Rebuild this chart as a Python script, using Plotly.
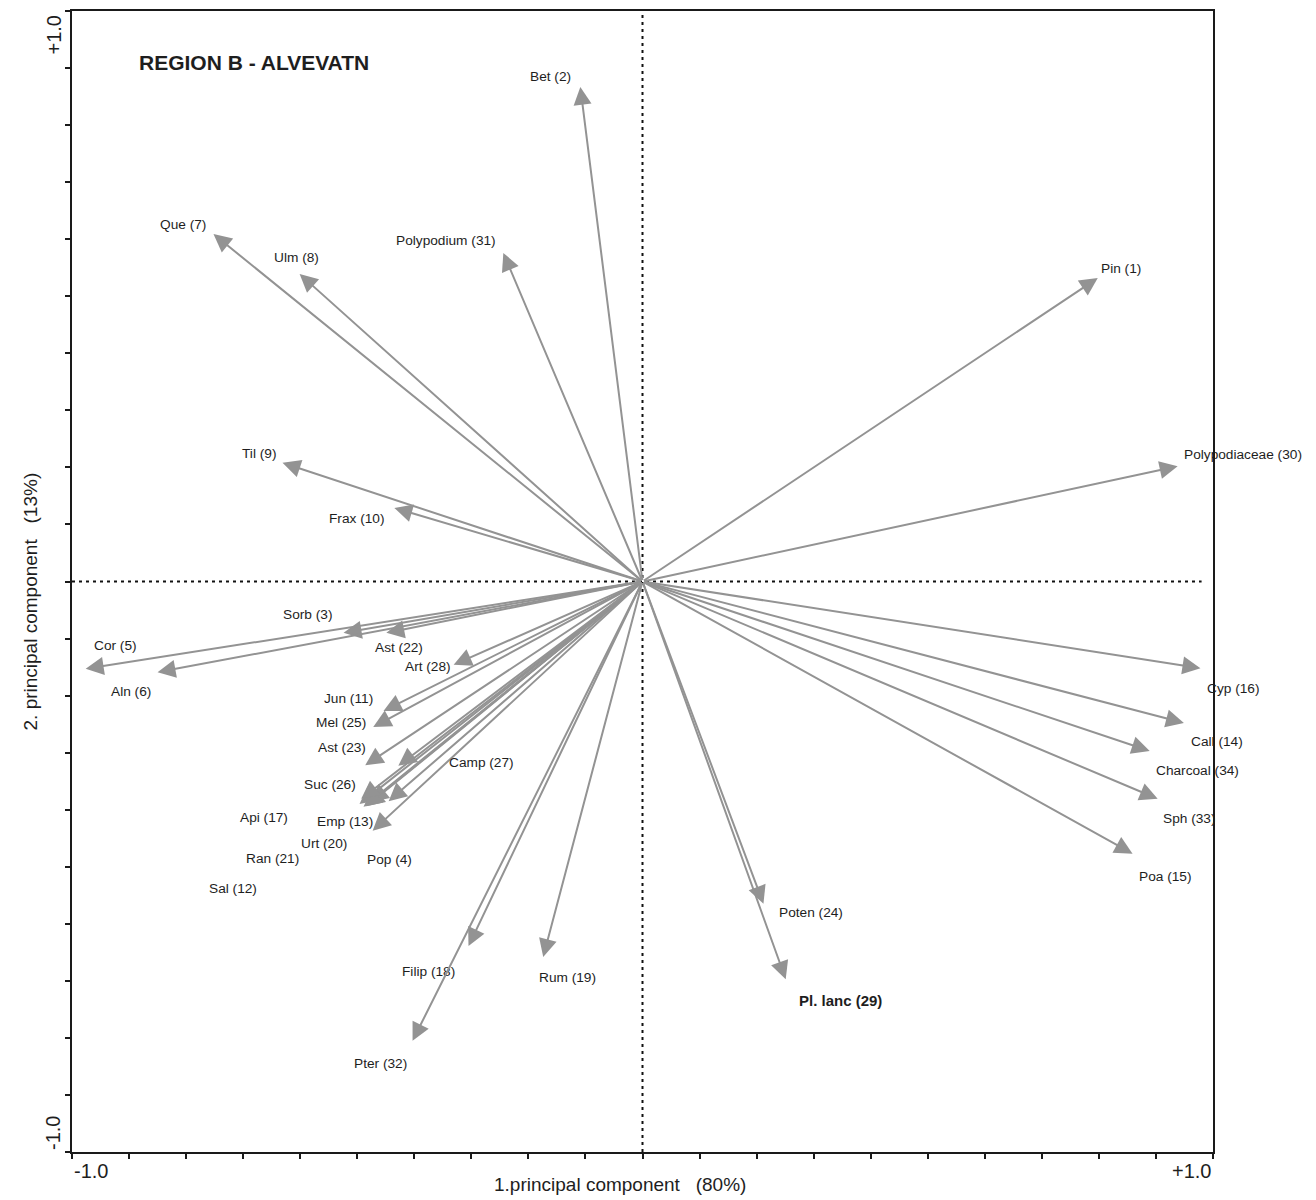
import plotly.graph_objects as go

# PCA loadings of the pollen / spore taxa (component 1, component 2)
taxa = [
    "Pin (1)", "Bet (2)", "Sorb (3)", "Pop (4)", "Cor (5)", "Aln (6)", "Que (7)",
    "Ulm (8)", "Til (9)", "Frax (10)", "Jun (11)", "Sal (12)", "Emp (13)",
    "Call (14)", "Poa (15)", "Cyp (16)", "Api (17)", "Filip (18)", "Rum (19)",
    "Urt (20)", "Ran (21)", "Ast (22)", "Ast (23)", "Poten (24)", "Mel (25)",
    "Suc (26)", "Camp (27)", "Art (28)", "Pl. lanc (29)", "Polypodiaceae (30)",
    "Polypodium (31)", "Pter (32)", "Sph (33)", "Charcoal (34)",
]
pc1 = [
    0.798, -0.109, -0.524, -0.473, -0.976, -0.850, -0.752,
    -0.601, -0.631, -0.435, -0.454, -0.445, -0.484,
    0.949, 0.859, 0.978, -0.496, -0.305, -0.174,
    -0.477, -0.489, -0.449, -0.486, 0.212, -0.472,
    -0.493, -0.428, -0.331, 0.251, 0.938,
    -0.244, -0.403, 0.903, 0.889,
]
pc2 = [
    0.532, 0.867, -0.090, -0.437, -0.153, -0.159, 0.609,
    0.539, 0.208, 0.129, -0.227, -0.385, -0.394,
    -0.248, -0.477, -0.152, -0.390, -0.639, -0.658,
    -0.387, -0.395, -0.090, -0.322, -0.565, -0.255,
    -0.381, -0.323, -0.146, -0.697, 0.202,
    0.576, -0.805, -0.381, -0.297,
]

# label placement relative to the arrow tip, in screen pixels (right, down)
label_dx = [
    23, -30, -36, 17, 30, -27, -30,
    -3, -24, -37, -35, -156, -21,
    33, 33, 33, -96, -40, 24,
    -46, -91, 13, -23, 48, -32,
    -31, 83, -26, 55, 65,
    -57, -32, 32, 48,
]
label_dy = [
    -9, -10, -18, 29, -23, 19, -10,
    -17, -9, 11, -13, 87, 15,
    19, 23, 20, 13, 25, 21,
    41, 52, 15, -18, 9, -4,
    -14, -3, 2, 21, -12,
    -12, 23, 20, 20,
]
bold_labels = {"Pl. lanc (29)"}

ARROW = "#939393"
TEXT = "#1e1e1e"
FONT = "Liberation Sans, Arial, sans-serif"

fig = go.Figure()

# invisible trace so the axes exist
fig.add_trace(go.Scatter(x=[-1, 1], y=[-1, 1], mode="markers",
                         marker=dict(opacity=0), hoverinfo="skip", showlegend=False))

annotations = []
for name, x, y, dx, dy in zip(taxa, pc1, pc2, label_dx, label_dy):
    annotations.append(dict(
        x=x, y=y, ax=0, ay=0, xref="x", yref="y", axref="x", ayref="y",
        text="", showarrow=True, arrowhead=2, arrowsize=1.8, arrowwidth=2,
        arrowcolor=ARROW, standoff=0, startstandoff=0,
    ))
    bold = name in bold_labels
    annotations.append(dict(
        x=x, y=y, xref="x", yref="y", showarrow=False,
        text=f"<b>{name}</b>" if bold else name,
        xshift=dx, yshift=-dy,
        font=dict(family=FONT, size=15 if bold else 13.7, color=TEXT),
    ))

# title
annotations.append(dict(
    x=0.057, y=0.955, xref="paper", yref="paper", xanchor="left", yanchor="middle",
    text="<b>REGION B - ALVEVATN</b>", showarrow=False,
    font=dict(family=FONT, size=21, color=TEXT),
))
# end labels of the axes
annotations += [
    dict(x=-1, y=0, xref="x", yref="paper", xanchor="left", yanchor="top", yshift=-6,
         text="-1.0", showarrow=False, font=dict(family=FONT, size=20, color=TEXT)),
    dict(x=1, y=0, xref="x", yref="paper", xanchor="right", yanchor="top", yshift=-6,
         text="+1.0", showarrow=False, font=dict(family=FONT, size=20, color=TEXT)),
    dict(x=0, y=1, xref="paper", yref="y", xanchor="right", yanchor="top", xshift=-6,
         yshift=-3, text="+1.0", textangle=-90, showarrow=False,
         font=dict(family=FONT, size=20, color=TEXT)),
    dict(x=0, y=-1, xref="paper", yref="y", xanchor="right", yanchor="bottom", xshift=-6,
         text="-1.0", textangle=-90, showarrow=False,
         font=dict(family=FONT, size=20, color=TEXT)),
    dict(x=0.48, y=0, xref="paper", yref="paper", xanchor="center", yanchor="top",
         yshift=-20, text="1.principal component   (80%)", showarrow=False,
         font=dict(family=FONT, size=19, color=TEXT)),
    dict(x=0, y=-0.035, xref="paper", yref="y", xanchor="center", yanchor="middle",
         xshift=-42, text="2. principal component   (13%)", textangle=-90, showarrow=False,
         font=dict(family=FONT, size=19, color=TEXT)),
]

# dashed zero lines
shapes = [
    dict(type="line", xref="x", yref="paper", x0=0, x1=0, y0=0, y1=1,
         line=dict(color="#111111", width=2, dash="3px,4px")),
    dict(type="line", xref="paper", yref="y", x0=0, x1=0.99, y0=0, y1=0,
         line=dict(color="#111111", width=2, dash="3px,4px")),
]

ticks = [round(-1 + 0.1 * i, 1) for i in range(21)]
axis_common = dict(
    range=[-1, 1], showgrid=False, zeroline=False, showline=True, mirror=True,
    linecolor="#1a1a1a", linewidth=2, ticks="outside", ticklen=5, tickwidth=2,
    tickcolor="#1a1a1a", tickvals=ticks, showticklabels=False, fixedrange=True,
)

fig.update_layout(
    width=1316, height=1200,
    margin=dict(l=72, r=103, t=9, b=48),
    paper_bgcolor="white", plot_bgcolor="white",
    xaxis=axis_common, yaxis=axis_common,
    annotations=annotations, shapes=shapes,
    showlegend=False,
)

fig.write_html("out.html")
